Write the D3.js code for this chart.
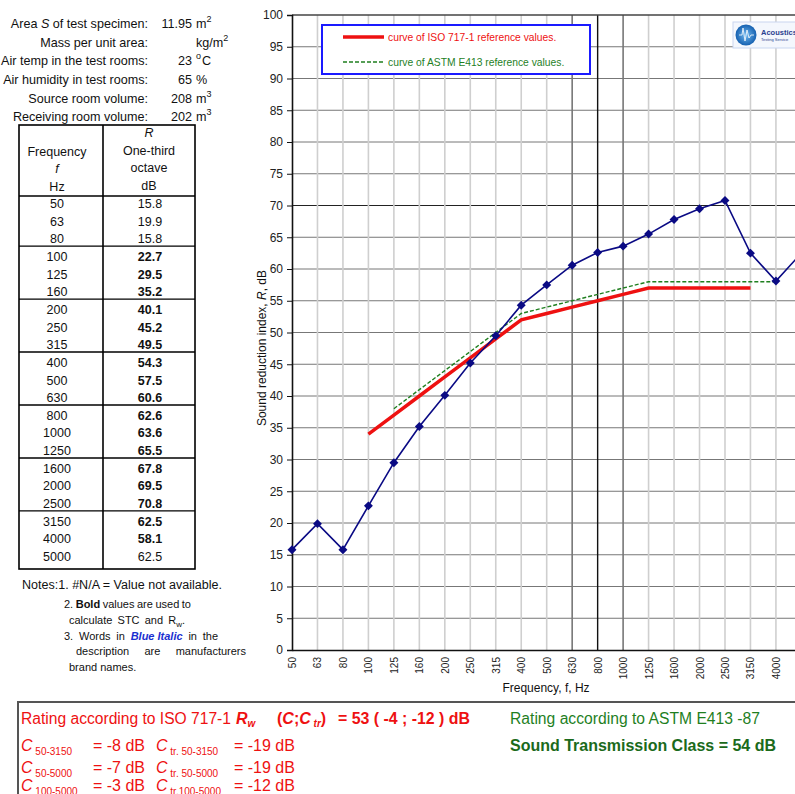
<!DOCTYPE html>
<html>
<head>
<meta charset="utf-8">
<script src="https://cdn.jsdelivr.net/npm/d3@7"></script>
<style>
  body { margin: 0; background: #fff; }
  svg { font-family: Arial, "Liberation Sans", sans-serif; }
</style>
</head>
<body>
<div id="chart"></div>
<script>
// Frequency bands (one-third octave) and measured R values
const freqs = ["50", "63", "80", "100", "125", "160", "200", "250", "315", "400", "500",
    "630", "800", "1000", "1250", "1600", "2000", "2500", "3150", "4000", "5000"];
const measured = [15.8, 19.9, 15.8, 22.7, 29.5, 35.2, 40.1, 45.2, 49.5, 54.3, 57.5,
    60.6, 62.6, 63.6, 65.5, 67.8, 69.5, 70.8, 62.5, 58.1, 62.5];
// Which values are printed bold in the table
const boldBands = ["100", "125", "160", "200", "250", "315", "400", "500", "630", "800",
    "1000", "1250", "1600", "2000", "2500", "3150", "4000"];

// ISO 717-1 shifted reference curve
const isoFreqs = ["100", "125", "160", "200", "250", "315", "400", "500", "630", "800",
    "1000", "1250", "1600", "2000", "2500", "3150"];
const isoValues = [34, 37, 40, 43, 46, 49, 52, 53, 54, 55, 56, 57, 57, 57, 57, 57];

// ASTM E413 STC contour
const astmFreqs = ["125", "160", "200", "250", "315", "400", "500", "630", "800", "1000",
    "1250", "1600", "2000", "2500", "3150", "4000"];
const astmValues = [38, 41, 44, 47, 50, 53, 54, 55, 56, 57, 58, 58, 58, 58, 58, 58];

const yTicks = d3.range(0, 101, 5);

// Test info block
const infoLabels = ["Area S of test specimen:", "Mass per unit area:", "Air temp in the test rooms:",
    "Air humidity in test rooms:", "Source room volume:", "Receiving room volume:"];
const infoValues = ["11.95", "", "23", "65", "208", "202"];

const width = 795, height = 794;
const svg = d3.select("#chart").append("svg")
    .attr("width", width)
    .attr("height", height);

const RED = "#ee1111", GREEN = "#1f7f1f", NAVY = "#0a0a84";

// ---------- Info block ----------
const infoY = [28, 47, 65, 84, 103, 121];
const info = svg.append("g").style("font-size", "12.6px").attr("fill", "#111");
infoLabels.forEach(function(l, i) {
    let t = info.append("text").attr("x", 148).attr("y", infoY[i]).attr("text-anchor", "end");
    if (i === 0) {
        t.append("tspan").text("Area ");
        t.append("tspan").style("font-style", "italic").text("S");
        t.append("tspan").text(" of test specimen:");
    } else {
        t.text(l);
    }
    info.append("text").attr("x", 192).attr("y", infoY[i]).attr("text-anchor", "end").text(infoValues[i]);
});
// units with superscripts
function unit(x, y, base, sup) {
    let t = info.append("text").attr("x", x).attr("y", y);
    t.append("tspan").text(base);
    if (sup) t.append("tspan").attr("dy", -6).style("font-size", "9px").text(sup);
}
unit(196, infoY[0], "m", "2");
unit(196, infoY[1], "kg/m", "2");
info.append("text").attr("x", 196).attr("y", infoY[2] - 6).style("font-size", "9px").text("o");
info.append("text").attr("x", 202).attr("y", infoY[2]).text("C");
unit(196, infoY[3], "%", null);
unit(196, infoY[4], "m", "3");
unit(196, infoY[5], "m", "3");

// ---------- Table ----------
const tbl = svg.append("g").style("font-size", "12.5px").attr("fill", "#111");
const tLeft = 19, tMid = 103, tRight = 195, tTop = 125, tHead = 196;
const rowStep = 17.65, row0 = 203.5;
const tBottom = 569;
tbl.append("rect").attr("x", tLeft).attr("y", tTop).attr("width", tRight - tLeft)
    .attr("height", tBottom - tTop).attr("fill", "none").attr("stroke", "#000").attr("stroke-width", 1.6);
tbl.append("line").attr("x1", tMid).attr("x2", tMid).attr("y1", tTop).attr("y2", tBottom)
    .attr("stroke", "#000").attr("stroke-width", 1.6);
// header
const headL = [["Frequency", 156, false], ["f", 173, true], ["Hz", 191, false]];
const headR = [["R", 137, true], ["One-third", 155, false], ["octave", 172, false], ["dB", 190, false]];
headL.forEach(function(h) {
    tbl.append("text").attr("x", 57).attr("y", h[1]).attr("text-anchor", "middle")
        .style("font-style", h[2] ? "italic" : "normal").text(h[0]);
});
headR.forEach(function(h) {
    tbl.append("text").attr("x", 149).attr("y", h[1]).attr("text-anchor", "middle")
        .style("font-style", h[2] ? "italic" : "normal").text(h[0]);
});
// group separators (every three bands)
const sepY = [tHead];
for (let g = 1; g < 7; g++) sepY.push(row0 + (g * 3 - 0.5) * rowStep - 1.5);
sepY.forEach(function(y) {
    tbl.append("line").attr("x1", tLeft).attr("x2", tRight).attr("y1", y).attr("y2", y)
        .attr("stroke", "#000").attr("stroke-width", 1.4);
});
freqs.forEach(function(f, i) {
    let y = row0 + i * rowStep + 4.5;
    tbl.append("text").attr("x", 57).attr("y", y).attr("text-anchor", "middle").text(f);
    tbl.append("text").attr("x", 150).attr("y", y).attr("text-anchor", "middle")
        .style("font-weight", boldBands.includes(f) ? "bold" : "normal")
        .text(measured[i].toFixed(1));
});

// ---------- Notes ----------
const notes = svg.append("g").style("font-size", "11px").attr("fill", "#111");
notes.append("text").attr("x", 22).attr("y", 589).style("font-size", "12px")
    .attr("textLength", 200).attr("lengthAdjust", "spacingAndGlyphs")
    .text("Notes:1. #N/A = Value not available.");

// justified line: words spread between x0 and x1
function justify(words, x0, x1, yy) {
    let nodes = words.map(function(w) {
        let t = notes.append("text").attr("y", yy);
        t.append("tspan").text(w.t)
            .style("font-weight", w.b ? "bold" : "normal")
            .style("font-style", w.i ? "italic" : "normal")
            .attr("fill", w.c || "#111");
        if (w.sub) t.append("tspan").attr("dy", 3).style("font-size", "8px").text(w.sub);
        if (w.after) t.append("tspan").attr("dy", -3).text(w.after);
        return t;
    });
    let widths = nodes.map(function(n) { return n.node().getComputedTextLength(); });
    let gap = (x1 - x0 - d3.sum(widths)) / (nodes.length - 1);
    let cx = x0;
    nodes.forEach(function(n, i) { n.attr("x", cx); cx += widths[i] + gap; });
}
justify([{t: "2."}, {t: "Bold", b: true}, {t: "values"}, {t: "are"}, {t: "used"}, {t: "to"}], 64, 191, 608);
justify([{t: "calculate"}, {t: "STC"}, {t: "and"}, {t: "R", sub: "w", after: "."}], 69, 185, 624);
justify([{t: "3."}, {t: "Words"}, {t: "in"}, {t: "Blue Italic", b: true, i: true, c: "#1a2fd0"},
    {t: "in"}, {t: "the"}], 64, 218, 640);
justify([{t: "description"}, {t: "are"}, {t: "manufacturers"}], 76, 246, 655);
notes.append("text").attr("x", 69).attr("y", 671).text("brand names.");

// ---------- Chart ----------
const plotLeft = 292, plotTop = 15, plotBottom = 650;
const x = d3.scalePoint().domain(freqs).range([plotLeft, plotLeft + 20 * 25.47]);
const y = d3.scaleLinear().domain([0, 100]).range([plotBottom, plotTop]);

const chart = svg.append("g");
// horizontal grid
chart.append("g").selectAll("line").data(yTicks.filter(function(d) { return d > 0 && d < 100; }))
    .enter().append("line")
    .attr("x1", plotLeft).attr("x2", width)
    .attr("y1", function(d) { return y(d); }).attr("y2", function(d) { return y(d); })
    .attr("stroke", function(d) { return d === 70 ? "#222" : "#777"; })
    .attr("stroke-width", 1);
// vertical grid
chart.append("g").selectAll("line").data(freqs.slice(1))
    .enter().append("line")
    .attr("x1", function(d) { return x(d); }).attr("x2", function(d) { return x(d); })
    .attr("y1", plotTop).attr("y2", plotBottom)
    .attr("stroke", function(d) {
        if (d === "800") return "#111";
        if (d === "630" || d === "1000") return "#777";
        return "#cfcfcf";
    })
    .attr("stroke-width", function(d) { return d === "800" ? 1.4 : 1.6; });
// top border
chart.append("line").attr("x1", plotLeft).attr("x2", width).attr("y1", plotTop).attr("y2", plotTop)
    .attr("stroke", "#444").attr("stroke-width", 1.6);

// y axis
const yAxis = chart.append("g").attr("transform", `translate(${plotLeft},0)`)
    .call(d3.axisLeft(y).tickValues(yTicks).tickSize(5).tickPadding(4));
yAxis.select(".domain").attr("stroke", "#111").attr("stroke-width", 1.6);
yAxis.selectAll(".tick line").attr("stroke", "#111");
yAxis.selectAll("text").style("font-size", "12px").style("font-family", "Arial, 'Liberation Sans', sans-serif").attr("fill", "#222");

// x axis
const xAxis = chart.append("g").attr("transform", `translate(0,${plotBottom})`)
    .call(d3.axisBottom(x).tickSize(0).tickPadding(0));
xAxis.select(".domain").attr("stroke", "#111").attr("stroke-width", 1.6);
xAxis.selectAll("text")
    .style("font-size", "10px").style("font-family", "Arial, 'Liberation Sans', sans-serif")
    .attr("fill", "#222")
    .attr("text-anchor", "end")
    .attr("transform", "rotate(-90)")
    .attr("x", -7).attr("y", 0).attr("dy", "0.35em");

// axis titles
chart.append("text").attr("x", 546).attr("y", 692).attr("text-anchor", "middle")
    .style("font-size", "12px").attr("fill", "#111").text("Frequency, f, Hz");
let yt = chart.append("text").attr("transform", "translate(266,348) rotate(-90)")
    .attr("text-anchor", "middle").style("font-size", "12px").attr("fill", "#111");
yt.append("tspan").text("Sound reduction index, ");
yt.append("tspan").style("font-style", "italic").text("R");
yt.append("tspan").text(", dB");

// reference curves
const line = d3.line().x(function(d) { return x(d[0]); }).y(function(d) { return y(d[1]); });
chart.append("path").datum(astmFreqs.map(function(f, i) { return [f, astmValues[i]]; }))
    .attr("d", line).attr("fill", "none").attr("stroke", GREEN)
    .attr("stroke-width", 1.4).attr("stroke-dasharray", "4,2");
chart.append("path").datum(isoFreqs.map(function(f, i) { return [f, isoValues[i]]; }))
    .attr("d", line).attr("fill", "none").attr("stroke", RED).attr("stroke-width", 3.5);

// measured curve
const meas = freqs.map(function(f, i) { return [f, measured[i]]; });
chart.append("path").datum(meas).attr("d", line)
    .attr("fill", "none").attr("stroke", NAVY).attr("stroke-width", 1.6);
chart.append("g").selectAll("path").data(meas).enter().append("path")
    .attr("d", d3.symbol().type(d3.symbolSquare).size(40))
    .attr("transform", function(d) { return `translate(${x(d[0])},${y(d[1])}) rotate(45)`; })
    .attr("fill", NAVY);

// legend
const leg = svg.append("g");
leg.append("rect").attr("x", 322).attr("y", 25).attr("width", 268).attr("height", 49)
    .attr("fill", "#fff").attr("stroke", "#1a1aff").attr("stroke-width", 2);
leg.append("line").attr("x1", 343).attr("x2", 384).attr("y1", 37).attr("y2", 37)
    .attr("stroke", RED).attr("stroke-width", 3.5);
leg.append("text").attr("x", 388).attr("y", 40.5).style("font-size", "10.3px").attr("fill", RED)
    .text("curve of ISO 717-1 reference values.");
leg.append("line").attr("x1", 343).attr("x2", 384).attr("y1", 62).attr("y2", 62)
    .attr("stroke", GREEN).attr("stroke-width", 1.4).attr("stroke-dasharray", "4,2");
leg.append("text").attr("x", 388).attr("y", 65.5).style("font-size", "10.3px").attr("fill", GREEN)
    .text("curve of ASTM E413 reference values.");

// logo
const logo = svg.append("g");
const grad = svg.append("defs").append("radialGradient").attr("id", "lg");
grad.append("stop").attr("offset", "0%").attr("stop-color", "#6fb8f0");
grad.append("stop").attr("offset", "100%").attr("stop-color", "#1560b0");
logo.append("rect").attr("x", 733).attr("y", 22).attr("width", 70).attr("height", 26)
    .attr("fill", "#f4f7fd").attr("stroke", "#c9d6f0");
logo.append("circle").attr("cx", 746).attr("cy", 35).attr("r", 10.5).attr("fill", "url(#lg)");
logo.append("path").attr("d", "M739,35 L742,35 L743,28 L745,41 L747,30 L749,38 L751,35 L754,35")
    .attr("fill", "none").attr("stroke", "#fff").attr("stroke-width", 0.8);
logo.append("text").attr("x", 761).attr("y", 35).style("font-size", "7.5px").style("font-weight", "bold")
    .attr("fill", "#2a3f8f").text("Acoustics");
logo.append("text").attr("x", 761).attr("y", 41).style("font-size", "4px")
    .attr("fill", "#2a3f8f").text("Testing Service");

// ---------- Rating box ----------
const box = svg.append("g").style("font-size", "16px");
box.append("rect").attr("x", 18).attr("y", 702).attr("width", 800).attr("height", 120)
    .attr("fill", "#fff").attr("stroke", "#555").attr("stroke-width", 2);
box.append("text").attr("x", 21).attr("y", 724).attr("fill", RED)
    .attr("textLength", 210).attr("lengthAdjust", "spacingAndGlyphs")
    .text("Rating according to ISO 717-1");
let rw = box.append("text").attr("x", 236).attr("y", 724).attr("fill", RED)
    .style("font-weight", "bold").style("font-style", "italic");
rw.append("tspan").text("R");
rw.append("tspan").attr("dy", 3).style("font-size", "10px").text("w");
let cc = box.append("text").attr("x", 277).attr("y", 724).attr("fill", RED).style("font-weight", "bold");
cc.append("tspan").text("(");
cc.append("tspan").style("font-style", "italic").text("C");
cc.append("tspan").text(";");
cc.append("tspan").style("font-style", "italic").text("C");
cc.append("tspan").attr("dy", 3).style("font-size", "10px").style("font-style", "italic").text(" tr");
cc.append("tspan").attr("dy", -3).text(")");
box.append("text").attr("x", 338).attr("y", 724).attr("fill", RED).style("font-weight", "bold")
    .attr("textLength", 132).attr("lengthAdjust", "spacingAndGlyphs")
    .text("= 53 ( -4 ; -12 ) dB");

const cRows = [
    ["50-3150", "= -8 dB", "tr. 50-3150", "= -19 dB", 751],
    ["50-5000", "= -7 dB", "tr. 50-5000", "= -19 dB", 773],
    ["100-5000", "= -3 dB", "tr.100-5000", "= -12 dB", 791]
];
cRows.forEach(function(r) {
    let g = box.append("g").attr("fill", RED);
    let a = g.append("text").attr("x", 21).attr("y", r[4]);
    a.append("tspan").style("font-style", "italic").text("C");
    a.append("tspan").attr("dy", 4).style("font-size", "10px").text(" " + r[0]);
    g.append("text").attr("x", 93).attr("y", r[4]).text(r[1]);
    let b = g.append("text").attr("x", 156).attr("y", r[4]);
    b.append("tspan").style("font-style", "italic").text("C");
    b.append("tspan").attr("dy", 4).style("font-size", "10px").text(" " + r[2]);
    g.append("text").attr("x", 234).attr("y", r[4]).text(r[3]);
});

box.append("text").attr("x", 510).attr("y", 724).attr("fill", GREEN)
    .attr("textLength", 250).attr("lengthAdjust", "spacingAndGlyphs")
    .text("Rating according to ASTM E413 -87");
box.append("text").attr("x", 510).attr("y", 751).attr("fill", "#1b6a1b").style("font-weight", "bold")
    .attr("textLength", 266).attr("lengthAdjust", "spacingAndGlyphs")
    .text("Sound Transmission Class = 54  dB");
</script>
</body>
</html>
